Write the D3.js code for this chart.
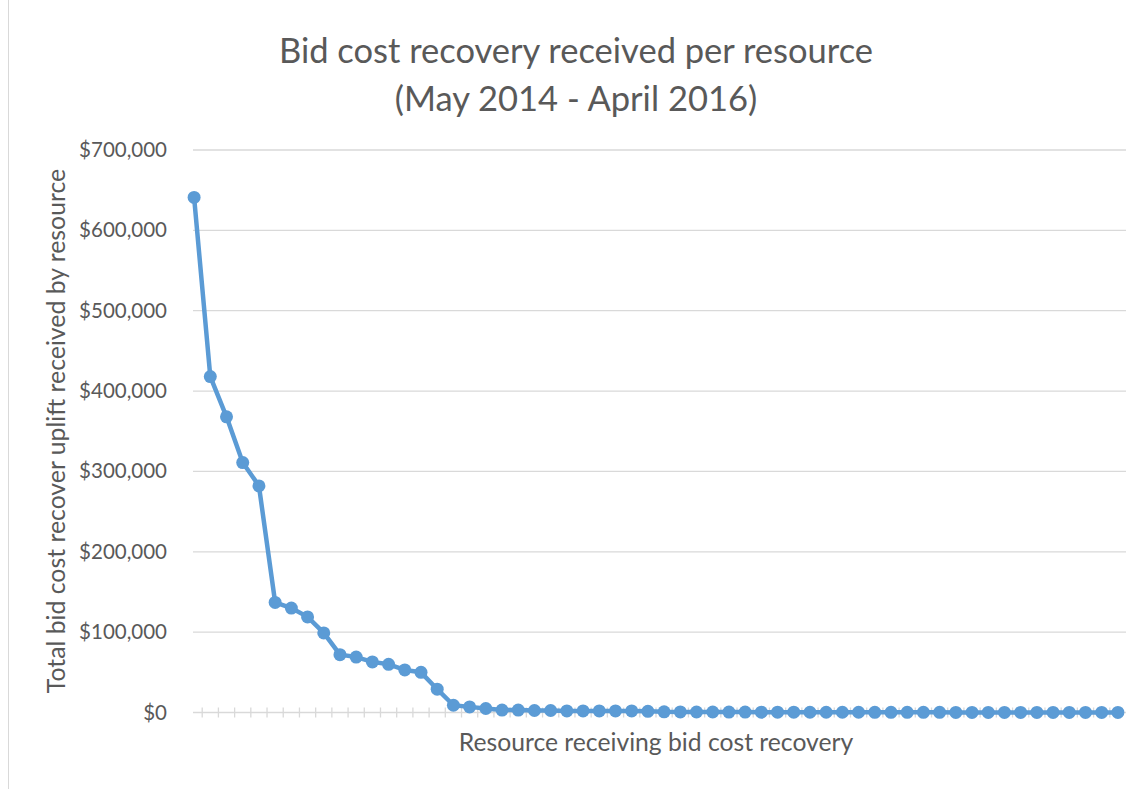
<!DOCTYPE html>
<html>
<head>
<meta charset="utf-8">
<script src="https://cdn.jsdelivr.net/npm/d3@7"></script>
<style>
  html, body { margin: 0; padding: 0; background: #fff; }
  svg { display: block; }
  text { font-family: Lato, "Open Sans", sans-serif; fill: #595959; }
</style>
</head>
<body>
<svg id="chart" width="1141" height="789"></svg>
<script>
// ---- Data ----
const titleLines = ["Bid cost recovery received per resource", "(May 2014 - April 2016)"];
const yAxisTitle = "Total bid cost recover uplift received by resource";
const xAxisTitle = "Resource receiving bid cost recovery";

const resources = d3.range(1, 59); // 58 resources
const uplift = [
  641000, 418000, 368000, 311000, 282000, 137000, 130000, 119000, 99000,
  72000, 69000, 63000, 60000, 53000, 50000, 29000, 9000, 7000, 5000,
  3000, 3000, 2500, 2500, 2000, 2000, 2000, 2000, 2000, 1500,
  800, 700, 600, 600, 500, 500, 400, 400, 400, 300, 300, 300, 300,
  200, 200, 200, 200, 200, 100, 100, 100, 100, 100, 100, 100, 50, 50, 50, 50
];
const yTicks = [0, 100000, 200000, 300000, 400000, 500000, 600000, 700000];

// ---- Layout ----
const svg = d3.select("#chart");
const W = 1141, H = 789;
const plot = { left: 186, right: 1126, top: 150, bottom: 712.5 };

// chart area border (left edge)
svg.append("line")
  .attr("x1", 8.5).attr("x2", 8.5).attr("y1", 0).attr("y2", H)
  .attr("stroke", "#d9d9d9").attr("stroke-width", 1);

const x = d3.scaleBand().domain(resources).range([plot.left, plot.right]).padding(0);
const y = d3.scaleLinear().domain([0, 700000]).range([plot.bottom, plot.top]);
const cx = d => x(d) + x.bandwidth() / 2;

// gridlines
svg.append("g").selectAll("line").data(yTicks.filter(t => t > 0)).join("line")
  .attr("x1", plot.left + 7).attr("x2", plot.right)
  .attr("y1", d => y(d)).attr("y2", d => y(d))
  .attr("stroke", "#d9d9d9").attr("stroke-width", 1.3);

// y tick labels
const yAxis = d3.axisLeft(y).tickValues(yTicks).tickSize(0).tickPadding(0)
  .tickFormat(d => "$" + d3.format(",")(d));
const gy = svg.append("g").attr("transform", `translate(167,0)`).call(yAxis);
gy.select(".domain").remove();
gy.selectAll("text").style("font-size", "20.5px").style("fill", "#595959")
  .style("font-family", "Lato, 'Open Sans', sans-serif");

// x axis (category axis, ticks between categories)
svg.append("line")
  .attr("x1", plot.left + 7).attr("x2", plot.right)
  .attr("y1", plot.bottom).attr("y2", plot.bottom)
  .attr("stroke", "#d9d9d9").attr("stroke-width", 1.3);
const boundaries = resources.slice(1).map(r => x(r));
svg.append("g").selectAll("line").data(boundaries).join("line")
  .attr("x1", d => d).attr("x2", d => d)
  .attr("y1", plot.bottom - 5).attr("y2", plot.bottom + 5)
  .attr("stroke", "#d9d9d9").attr("stroke-width", 1.3);

// line series
const pts = resources.map((r, i) => ({ r, v: uplift[i] }));
svg.append("path").datum(pts)
  .attr("fill", "none").attr("stroke", "#5b9bd5").attr("stroke-width", 4.5)
  .attr("stroke-linejoin", "round")
  .attr("d", d3.line().x(d => cx(d.r)).y(d => y(d.v)));
svg.append("g").selectAll("circle").data(pts).join("circle")
  .attr("cx", d => cx(d.r)).attr("cy", d => y(d.v)).attr("r", 6.5)
  .attr("fill", "#5b9bd5");

// titles
svg.append("text").attr("x", 576).attr("y", 63).attr("text-anchor", "middle")
  .style("font-size", "34.5px").text(titleLines[0]);
svg.append("text").attr("x", 576).attr("y", 111).attr("text-anchor", "middle")
  .style("font-size", "34.5px").text(titleLines[1]);

svg.append("text").attr("transform", "translate(65,431) rotate(-90)")
  .attr("text-anchor", "middle").style("font-size", "24.8px").text(yAxisTitle);

svg.append("text").attr("x", 656).attr("y", 751).attr("text-anchor", "middle")
  .style("font-size", "24.7px").text(xAxisTitle);
</script>
</body>
</html>
